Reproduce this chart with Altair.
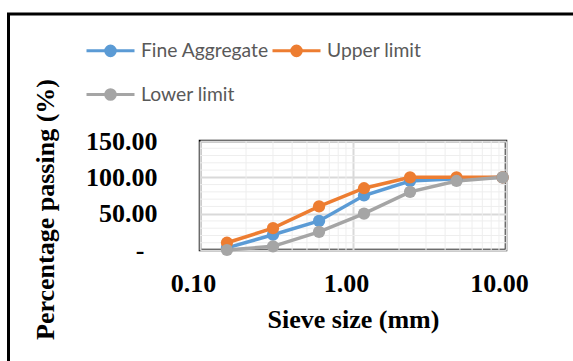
import altair as alt
import pandas as pd

sieve_mm = [0.15, 0.3, 0.6, 1.18, 2.36, 4.75, 9.5]
fine_aggregate = [3, 21, 40, 75, 95, 98, 100]
upper_limit = [10, 30, 60, 85, 100, 100, 100]
lower_limit = [0, 5, 25, 50, 80, 95, 100]
series_names = ["Fine Aggregate", "Upper limit", "Lower limit"]
series_colors = ["#5B9BD5", "#ED7D31", "#A5A5A5"]
legend_order = ["Fine Aggregate", "Lower limit", "Upper limit"]
legend_colors = ["#5B9BD5", "#A5A5A5", "#ED7D31"]
x_ticks = [0.1, 1, 10]
y_ticks = [0, 50, 100, 150]
x_minor = [0.2, 0.3, 0.4, 0.5, 0.6, 0.7, 0.8, 0.9, 2, 3, 4, 5, 6, 7, 8, 9]
y_minor = [10, 20, 30, 40, 60, 70, 80, 90, 110, 120, 130, 140]

rows = []
for name, vals in zip(series_names, [fine_aggregate, upper_limit, lower_limit]):
    for s, v in zip(sieve_mm, vals):
        rows.append({"series": name, "sieve": s, "pct": v})
df = pd.DataFrame(rows)

xscale = alt.Scale(type="log", domain=[0.1, 10])
yscale = alt.Scale(domain=[0, 150])
color_scale = alt.Scale(domain=legend_order, range=legend_colors)

SERIF = "Liberation Serif"

xaxis = alt.Axis(
    values=x_ticks, labelExpr="format(datum.value, '.2f')", grid=True,
    gridColor="#d9d9d9", gridWidth=2, domain=False, ticks=False, labelFlush=False,
    labelFont=SERIF, labelFontWeight="bold", labelFontSize=26, labelColor="black",
    labelPadding=20, labelOffset=-7, title="Sieve size (mm)", titleFont=SERIF,
    titleFontWeight="bold", titleFontSize=26, titleColor="black",
    titleBaseline="middle", titleY=69)
yaxis = alt.Axis(
    values=y_ticks,
    labelExpr="datum.value == 0 ? '-' : format(datum.value, '.2f')",
    grid=True, gridColor="#d9d9d9", gridWidth=2, domain=False, ticks=False,
    labelFlush=False,
    labelFont=SERIF, labelFontWeight="bold", labelFontSize=26, labelColor="black",
    labelPadding={"condition": {"test": "datum.value == 0", "value": 56}, "value": 43},
    title="Percentage passing (%)", titleFont=SERIF,
    titleFontWeight="bold", titleFontSize=26, titleColor="black",
    titleBaseline="middle", titleAlign="center", titleX=-155, titleY=68)

legend = alt.Legend(
    title=None, orient="none", legendX=-115, legendY=-116, columns=2,
    symbolType="M-1,0L1,0M-0.2,0A0.2,0.2,0,1,1,0.2,0A0.2,0.2,0,1,1,-0.2,0Z",
    symbolSize=2304, symbolStrokeWidth=3, labelFont="Lato", labelFontSize=19.3,
    labelColor="#595959", columnPadding=-3, rowPadding=7, padding=0, labelOffset=5,
)

minor_v = alt.Chart(pd.DataFrame({"sieve": x_minor})).mark_rule(
    color="#eeeeee", strokeWidth=1).encode(x=alt.X("sieve:Q", scale=xscale, axis=xaxis))
minor_h = alt.Chart(pd.DataFrame({"pct": y_minor})).mark_rule(
    color="#eeeeee", strokeWidth=1).encode(y=alt.Y("pct:Q", scale=yscale, axis=yaxis))

base = alt.Chart(df).encode(
    x=alt.X("sieve:Q", scale=xscale, axis=xaxis),
    y=alt.Y("pct:Q", scale=yscale, axis=yaxis),
    color=alt.Color("series:N", scale=color_scale, legend=legend),
)

lines = base.mark_line(strokeWidth=3.5)
points = base.mark_circle(size=150, opacity=1)

frame = alt.Chart(alt.Data(values=[{}])).mark_rect(
    fillOpacity=0, stroke="black", strokeWidth=3).encode(
    x=alt.value(-191.5), x2=alt.value(800), y=alt.value(-127), y2=alt.value(600))

chart = alt.layer(minor_v, minor_h, lines, points, frame).properties(
    width=306, height=109,
    autosize=alt.AutoSizeParams(type="none"),
    padding={"left": 200, "top": 141, "right": 67, "bottom": 111},
).configure_view(stroke="black", strokeWidth=2.5)

chart.save("out.html", embed_options={"renderer": "svg", "actions": False})
